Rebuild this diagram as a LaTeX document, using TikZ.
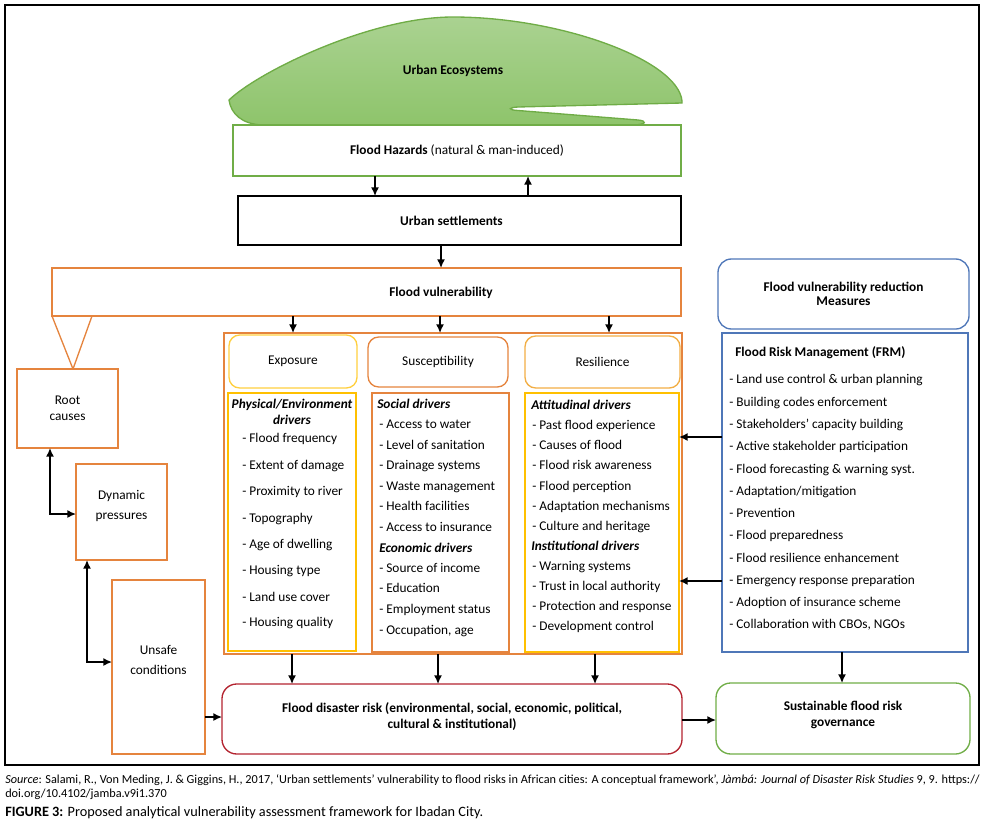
\documentclass[tikz,border=0pt]{standalone}
\usepackage{fontspec}
\setmainfont{Carlito}
\usetikzlibrary{arrows.meta}
\definecolor{ecoline}{HTML}{6FAC46}
\definecolor{ecotop}{HTML}{AAD291}
\definecolor{ecobot}{HTML}{8EC46B}
\definecolor{hazgreen}{HTML}{70AD47}
\definecolor{ora}{HTML}{E5843E}
\definecolor{yel}{HTML}{FFC000}
\definecolor{yelh}{HTML}{FFCF3F}
\definecolor{resh}{HTML}{F2AE45}
\definecolor{riskred}{HTML}{B3232F}
\definecolor{frmblue}{HTML}{4F77B8}
\tikzset{
  sz/.style 2 args={minimum width=#1*0.75pt,minimum height=#2*0.75pt},
  box/.style={draw=#1,line width=1pt,inner sep=0pt,outer sep=0pt,align=center},
  rbox/.style={box=#1,rounded corners=8pt},
  item/.style={anchor=west,inner sep=0pt,text height=7pt,text depth=2pt},
  head/.style={item,font=\bfseries\itshape},
  arr/.style={line width=1.1pt,-{Latex[length=6.5pt,width=6pt]}},
  dblarr/.style={line width=1.1pt,{Latex[length=6.5pt,width=6pt]}-{Latex[length=6.5pt,width=6pt]}},
}
\begin{document}
\begin{tikzpicture}[x=0.75pt,y=0.75pt,yscale=-1,xscale=1,font=\fontsize{10}{12}\selectfont]
\useasboundingbox (0,0) rectangle (984,824);

%Frame
\draw[line width=0.8pt] (5,5) rectangle (979,765);

%Shape: Urban Ecosystems
\draw[draw=ecoline,line width=1pt,top color=ecotop,bottom color=ecobot] (682,103) -- (518,107) .. controls (508,107.5) and (508,110) .. (518,110.5) -- (638,120) .. controls (648,121) and (646,124.5) .. (634,125) -- (262,125) .. controls (242,124) and (231,114) .. (229,100) .. controls (258,72) and (370,17) .. (453,17) .. controls (560,17) and (678,60) .. (682,101) -- cycle ;
\node[font=\bfseries] (eco) at (453,71) {Urban Ecosystems};

%Hazards and settlements
\node[box=hazgreen,sz={448}{51}] (hazard) at (457,150.5) {\textbf{Flood Hazards} (natural \& man-induced)};
\node[box=black,line width=1.4pt,sz={443}{49}] (settle) at (459.5,220.5) {\textbf{Urban settlements}\hspace*{12pt}};
\draw[arr] (hazard.south -| 375,0) -- (settle.north -| 375,0);
\draw[arr] (settle.north -| 528,0) -- (hazard.south -| 528,0);

%Flood vulnerability
\node[box=ora,sz={629}{48}] (vuln) at (366.5,292) {};
\node[font=\bfseries] (vulntext) at (441,293) {Flood vulnerability};
\draw[arr] (settle.south -| vulntext) -- (vuln.north -| vulntext);

%Left chain
\node[box=ora,sz={101}{79}] (root) at (67.5,408.5) {Root\\causes};
\node[box=ora,sz={91}{96}] (dyn) at (121.5,512) {Dynamic\\[3pt]pressures\\[-1pt]};
\node[box=ora,sz={93}{174}] (unsafe) at (158.5,667) {Unsafe\\[3pt]conditions\\[-1pt]};
\draw[ora,line width=1pt,line join=round] (vuln.south west) -- (root.north -| 73,0) -- (vuln.south west -| 92,0);
\draw[dblarr] (root.south -| 50,0) |- (dyn.west |- 0,514);
\draw[dblarr] (dyn.south -| 87,0) |- (unsafe.west |- 0,662);

%Container and headers
\node[box=ora,sz={458}{321}] (cont) at (453,493.5) {};
\node[rbox=yelh,sz={128}{53}] (expH) at (293,361.5) {Exposure};
\node[rbox=ora,sz={140}{50}] (susH) at (438,362) {Susceptibility};
\node[rbox=resh,sz={155}{52}] (resH) at (602.5,362) {Resilience};
\draw[arr] (vuln.south -| expH) -- (cont.north -| expH);
\draw[arr] (vuln.south -| 440,0) -- (cont.north -| 440,0);
\draw[arr] (vuln.south -| 609,0) -- (cont.north -| 609,0);

%Exposure drivers
\node[box=yel,sz={128}{258}] (expL) at (292,522) {};
\node[font=\bfseries\itshape,inner sep=0pt,align=center] (expT) at (292,412) {Physical/Environment\\drivers};
\node[item] (e1) at (242,439) {- Flood frequency};
\node[item] (e2) at (242,466) {- Extent of damage};
\node[item] (e3) at (242,492) {- Proximity to river};
\node[item] (e4) at (242,519) {- Topography};
\node[item] (e5) at (242,545) {- Age of dwelling};
\node[item] (e6) at (242,571) {- Housing type};
\node[item] (e7) at (242,598) {- Land use cover};
\node[item] (e8) at (242,623) {- Housing quality};

%Susceptibility drivers
\node[box=ora,sz={137}{259}] (susL) at (440.5,522.5) {};
\node[head] (sT1) at (377,405) {Social drivers};
\node[item] (s1) at (379,425) {- Access to water};
\node[item] (s2) at (379,446) {- Level of sanitation};
\node[item] (s3) at (379,466) {- Drainage systems};
\node[item] (s4) at (379,487) {- Waste management};
\node[item] (s5) at (379,507) {- Health facilities};
\node[item] (s6) at (379,528) {- Access to insurance};
\node[head] (sT2) at (379,549) {Economic drivers};
\node[item] (s7) at (379,569) {- Source of income};
\node[item] (s8) at (379,589) {- Education};
\node[item] (s9) at (379,610) {- Employment status};
\node[item] (s10) at (379,631) {- Occupation, age};

%Resilience drivers
\node[box=yel,sz={154}{259}] (resL) at (602,522.5) {};
\node[head] (rT1) at (531,406) {Attitudinal drivers};
\node[item] (r1) at (532,426) {- Past flood experience};
\node[item] (r2) at (532,446) {- Causes of flood};
\node[item] (r3) at (532,466) {- Flood risk awareness};
\node[item] (r4) at (532,487) {- Flood perception};
\node[item] (r5) at (532,507) {- Adaptation mechanisms};
\node[item] (r6) at (532,527) {- Culture and heritage};
\node[head] (rT2) at (531,547) {Institutional drivers};
\node[item] (r7) at (532,567) {- Warning systems};
\node[item] (r8) at (532,587) {- Trust in local authority};
\node[item] (r9) at (532,607) {- Protection and response};
\node[item] (r10) at (532,627) {- Development control};

%Measures
\node[rbox=frmblue,rounded corners=10pt,sz={251}{70},font=\bfseries] (redH) at (843.5,294) {Flood vulnerability reduction\\[-1pt]Measures};
\node[box=frmblue,sz={246}{319}] (frm) at (845,492.5) {};
\node[item,font=\bfseries] (fT) at (735,353) {Flood Risk Management (FRM)};
\node[item] (f1) at (729,380) {- Land use control \& urban planning};
\node[item] (f2) at (729,403) {- Building codes enforcement};
\node[item] (f3) at (729,425) {- Stakeholders’ capacity building};
\node[item] (f4) at (729,447) {- Active stakeholder participation};
\node[item] (f5) at (729,470) {- Flood forecasting \& warning syst.};
\node[item] (f6) at (729,492) {- Adaptation/mitigation};
\node[item] (f7) at (729,514) {- Prevention};
\node[item] (f8) at (729,536) {- Flood preparedness};
\node[item] (f9) at (729,559) {- Flood resilience enhancement};
\node[item] (f10) at (729,581) {- Emergency response preparation};
\node[item] (f11) at (729,603) {- Adoption of insurance scheme};
\node[item] (f12) at (729,625) {- Collaboration with CBOs, NGOs};
\draw[arr] (frm.west |- 0,437) -- (resL.east |- 0,437);
\draw[arr] (frm.west |- 0,581) -- (resL.east |- 0,581);

%Outcomes
\node[rbox=riskred,rounded corners=11pt,sz={460}{70},font=\bfseries] (risk) at (452,719) {Flood disaster risk (environmental, social, economic, political,\\cultural \& institutional)\\[-7.5pt]};
\node[rbox=hazgreen,rounded corners=11pt,sz={254}{71},font=\bfseries] (sust) at (843,718.5) {Sustainable flood risk\\governance\\[-5pt]};
\draw[arr] (cont.south -| expL) -- (risk.north -| expL);
\draw[arr] (cont.south -| 438,0) -- (risk.north -| 438,0);
\draw[arr] (cont.south -| 595,0) -- (risk.north -| 595,0);
\draw[arr] (unsafe.east |- 0,717) -- (risk.west |- 0,717);
\draw[arr] (risk.east |- 0,720) -- (sust.west |- 0,720);
\draw[arr] (frm.south -| 842,0) -- (sust.north -| 842,0);

%Caption
\node[anchor=west,inner sep=0pt,font=\fontsize{9.2}{11}\selectfont] (src1) at (5,780) {\textit{Source}: Salami, R., Von Meding, J. \& Giggins, H., 2017, ‘Urban settlements’ vulnerability to flood risks in African cities: A conceptual framework’, \textit{Jàmbá: Journal of Disaster Risk Studies} 9, 9. https://};
\node[anchor=west,inner sep=0pt,font=\fontsize{9.2}{11}\selectfont] (src2) at (5,794) {doi.org/10.4102/jamba.v9i1.370};
\node[anchor=west,inner sep=0pt,font=\fontsize{10.7}{13}\selectfont] (fig) at (5,813) {\textbf{FIGURE 3:} Proposed analytical vulnerability assessment framework for Ibadan City.};

\end{tikzpicture}
\end{document}
